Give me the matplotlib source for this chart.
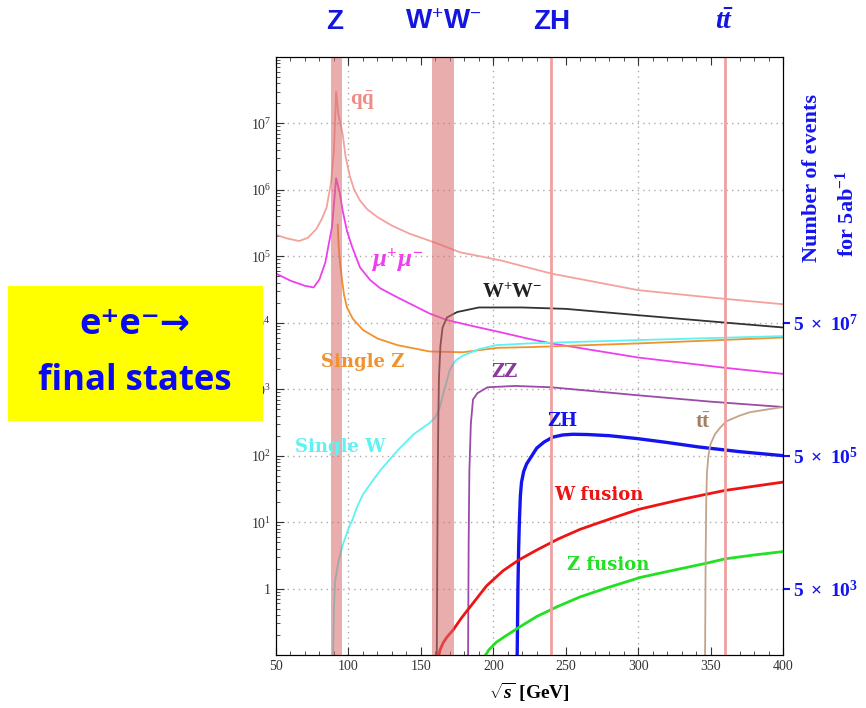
import matplotlib
matplotlib.use("Agg")
import matplotlib.pyplot as plt
from matplotlib.patches import Rectangle
from matplotlib.ticker import FixedLocator, MultipleLocator, LogLocator, NullFormatter
import numpy as np

plt.rcParams['font.family'] = ['Liberation Serif', 'DejaVu Serif']
plt.rcParams['mathtext.fontset'] = 'custom'
plt.rcParams['mathtext.rm'] = 'Liberation Serif:bold'
plt.rcParams['mathtext.bf'] = 'Liberation Serif:bold'
plt.rcParams['mathtext.it'] = 'Liberation Serif:italic:bold'

#====================================================================
''' cross sections [fb] read off the picture, sqrt(s) in GeV '''
qq_x = [50, 58, 66, 72, 78, 82, 85, 88, 90, 91.5, 93, 96, 98, 101, 104, 108, 113, 120, 130, 142,
        160, 177, 205, 240, 300, 350, 400]
qq_y = [2.1e5, 1.85e5, 1.7e5, 1.9e5, 2.6e5, 3.8e5, 5.5e5, 1.3e6, 4e6, 3e7, 1.4e7, 7e6, 3.2e6, 1.6e6,
        1e6, 6.9e5, 5.1e5, 3.9e5, 2.9e5, 2.2e5, 1.6e5, 1.15e5, 8.7e4, 5.5e4, 3.1e4, 2.4e4, 1.9e4]

mumu_x = [50, 60, 70, 76, 80, 84, 88.7, 91.5, 94, 96, 99, 102.5, 108, 115, 122, 134, 156, 168, 185,
          205, 225, 240, 300, 360, 400]
mumu_y = [5.5e4, 4.3e4, 3.6e4, 3.4e4, 4.5e4, 8e4, 2.8e5, 1.5e6, 9e5, 4.9e5, 2.4e5, 1.4e5, 6.8e4,
          4.4e4, 3.3e4, 2.4e4, 1.38e4, 1.1e4, 9e3, 7.2e3, 5.7e3, 4.9e3, 3e3, 2.1e3, 1.7e3]

singleZ_x = [92.6, 93.2, 94.2, 95.6, 97, 99, 103, 110, 120, 134, 156, 179, 203, 225, 301, 400]
singleZ_y = [3e5, 1.5e5, 8e4, 4.4e4, 2.6e4, 1.7e4, 1.15e4, 7.8e3, 5.8e3, 4.6e3, 3.7e3, 3.6e3,
             4.2e3, 4.3e3, 4.9e3, 6e3]

singleW_x = [89.4, 90, 90.7, 93, 96, 100, 102.5, 106, 110, 116, 122, 128, 134, 145, 156, 160,
             163, 166, 170, 174, 179, 190, 202, 225, 301, 400]
singleW_y = [0.1, 0.5, 1.25, 2.5, 4.5, 8, 10.5, 17, 26, 40, 60, 85, 120, 210, 310, 380, 520, 950,
             1.95e3, 2.7e3, 3.2e3, 4e3, 4.6e3, 4.9e3, 5.5e3, 6.3e3]

ww_x = [161.0, 161.3, 161.6, 162, 162.5, 163.5, 165, 168, 175, 190, 220, 250, 300, 350, 400]
ww_y = [0.1, 2, 30, 300, 1500, 4500, 8500, 1.2e4, 1.45e4, 1.7e4, 1.7e4, 1.62e4, 1.3e4, 1.05e4, 8.5e3]

zz_x = [182.6, 183, 183.5, 184.5, 186, 189, 196, 215, 240, 300, 350, 400]
zz_y = [0.1, 5, 60, 300, 700, 870, 1.07e3, 1.12e3, 1.07e3, 810, 650, 540]

zh_x = [216.5, 217, 217.5, 218, 218.7, 219.5, 221, 223, 226, 230, 235, 241, 248, 255, 265, 280,
        300, 320, 342, 370, 400]
zh_y = [0.1, 1, 4, 10, 25, 40, 58, 75, 95, 130, 160, 190, 205, 210, 208, 200, 180, 158, 135, 115, 100]

wfus_x = [162.5, 163.2, 165.3, 168, 172.4, 178, 184, 195.4, 206.7, 217.7, 230, 245, 260, 277, 300,
          330, 360, 400]
wfus_y = [0.1, 0.119, 0.151, 0.186, 0.24, 0.36, 0.53, 1.1, 1.85, 2.7, 3.8, 5.6, 7.8, 10.5, 15.5,
          22, 30, 40]

zfus_x = [194.7, 197, 202, 208, 217.7, 230, 244.7, 260, 280, 302, 325, 347, 360, 380, 400]
zfus_y = [0.1, 0.12, 0.155, 0.19, 0.26, 0.38, 0.54, 0.75, 1.05, 1.48, 1.9, 2.4, 2.8, 3.2, 3.6]

tt_x = [346.2, 346.6, 347, 347.5, 348.5, 350, 353, 357, 361, 370, 377, 390, 400]
tt_y = [0.1, 3, 20, 55, 100, 150, 210, 270, 330, 400, 450, 500, 540]

''' run points '''
bands = [(88, 95.6), (157.7, 173)]
run_lines = [240, 360]
top_labels = ['Z', 'W$^{+}$W$^{-}$', 'ZH', r'$t\bar{t}$']
top_x = [335, 443, 552, 725]
right_ticks = [5e3, 5e5, 5e7]
right_labels = [r'$5\ \times\ 10^{3}$', r'$5\ \times\ 10^{5}$', r'$5\ \times\ 10^{7}$']
#====================================================================

W, H = 866, 708
fig = plt.figure(figsize=(W / 100, H / 100), dpi=100)
ax = fig.add_axes([276 / W, 1 - 655 / H, 507 / W, 598 / H])

curves = [
    (qq_x, qq_y, '#f4a29c', 1.3),
    (mumu_x, mumu_y, '#ee3fee', 1.3),
    (singleZ_x, singleZ_y, '#f0922e', 1.3),
    (singleW_x, singleW_y, '#5ff2f2', 1.3),
    (ww_x, ww_y, '#333333', 1.3),
    (zz_x, zz_y, '#9a4aa8', 1.3),
    (zh_x, zh_y, '#1414ee', 2.4),
    (wfus_x, wfus_y, '#ee1414', 2.0),
    (zfus_x, zfus_y, '#22e022', 2.0),
    (tt_x, tt_y, '#c4a488', 1.3),
]
for x, y, c, lw in curves:
    ax.plot(x, y, color=c, lw=lw, zorder=2, solid_joinstyle='round')

for lo, hi in bands:
    ax.axvspan(lo, hi, color='#d86a6c', alpha=0.55, lw=0, zorder=3)
for xv in run_lines:
    ax.axvline(xv, color='#f0a0a0', lw=2, zorder=3)

ax.set_xlim(50, 400)
ax.set_yscale('log')
ax.set_ylim(0.1, 1e8)

ax.xaxis.set_major_locator(MultipleLocator(50))
ax.xaxis.set_minor_locator(MultipleLocator(10))
ax.yaxis.set_major_locator(FixedLocator([10.0 ** k for k in range(0, 8)]))
ax.set_yticklabels(['1'] + ['$\\mathdefault{10^{%d}}$' % k for k in range(1, 8)])
ax.yaxis.set_minor_locator(LogLocator(base=10, subs=np.arange(2, 10)))
ax.yaxis.set_minor_formatter(NullFormatter())
ax.tick_params(which='both', direction='in', top=True, right=False, colors='#333333',
               labelsize=10)
ax.tick_params(which='major', length=6)
ax.tick_params(which='minor', length=3)

for xv in [100, 200, 300]:
    ax.axvline(xv, color='#aaaaaa', lw=1, ls=(0, (1, 3)), zorder=1)
for k in range(0, 8):
    ax.axhline(10.0 ** k, color='#aaaaaa', lw=1, ls=(0, (1, 3)), zorder=1)

ax.set_xlabel(r'$\sqrt{s}$ [GeV]', fontsize=14, fontweight='bold', labelpad=6)

# right axis: number of events for 5 ab^-1
ax2 = ax.twinx()
ax2.set_yscale('log')
ax2.set_ylim(0.1 * 5000, 1e8 * 5000)
ax2.yaxis.set_major_locator(FixedLocator(right_ticks))
ax2.set_yticklabels(right_labels)
ax2.yaxis.set_minor_locator(FixedLocator([]))
ax2.tick_params(axis='y', colors='#1414ee', direction='out', length=5, width=1.5,
                labelsize=14, pad=2)
ax2.spines['right'].set_color('black')

fig.text(812 / W, 1 - 262 / H, 'Number of events', rotation=90, ha='center', va='bottom',
         color='#1414ee', fontsize=16, fontweight='bold')
fig.text(847 / W, 1 - 257 / H, 'for 5ab$^{-1}$', rotation=90, ha='center', va='bottom',
         color='#1414ee', fontsize=16, fontweight='bold')

# curve labels
lab = dict(fontsize=13, fontweight='bold', ha='center', va='center', zorder=5,
           family=['DejaVu Serif'])
ax.text(109.4, 2.2e7, r'q$\bar{\rm q}$', color='#f08a84', fontsize=15, fontweight='bold',
        ha='center', va='center')
ax.text(133.5, 8.7e4, r'$\mu^{+}\mu^{-}$', color='#ee3fee', fontsize=18, ha='center', va='center')
ax.text(213, 2.8e4, 'W$^{+}$W$^{-}$', color='#222222', fontsize=15, fontweight='bold',
        ha='center', va='center')
ax.text(110, 2.55e3, 'Single Z', color='#f0922e', **lab)
ax.text(208, 1.8e3, 'ZZ', color='#8a3a98', **lab)
ax.text(94.2, 134, 'Single W', color='#5ff2f2', **lab)
ax.text(247.4, 331, 'ZH', color='#1414ee', **lab)
ax.text(344.8, 310, r't$\bar{\rm t}$', color='#a08060', fontsize=15, fontweight='bold',
        ha='center', va='center')
ax.text(273, 25.5, 'W fusion', color='#ee1414', **lab)
ax.text(279, 2.25, 'Z fusion', color='#22e022', **lab)

# run labels on top
for t, px in zip(top_labels, top_x):
    fig.text(px / W, 1 - 22 / H, t, color='#1515e0', fontsize=20, fontweight='bold',
             ha='center', va='center', family=['Liberation Sans', 'DejaVu Sans'])

# yellow box
box = Rectangle((8 / W, 1 - 421 / H), 255 / W, 135 / H, transform=fig.transFigure,
                facecolor='#ffff00', edgecolor='none', zorder=10)
fig.patches.append(box)
fig.text(135 / W, 1 - 325 / H, 'e\u207ae\u207b\u2192', color='#0a0af0', fontsize=26,
         fontweight='bold', ha='center', va='center', family=['Open Sans', 'DejaVu Sans'], zorder=11)
fig.text(135 / W, 1 - 381 / H, 'final states', color='#0a0af0', fontsize=25,
         fontweight='bold', ha='center', va='center', family=['Open Sans', 'DejaVu Sans'], zorder=11)

fig.savefig('out.png', dpi=100)
